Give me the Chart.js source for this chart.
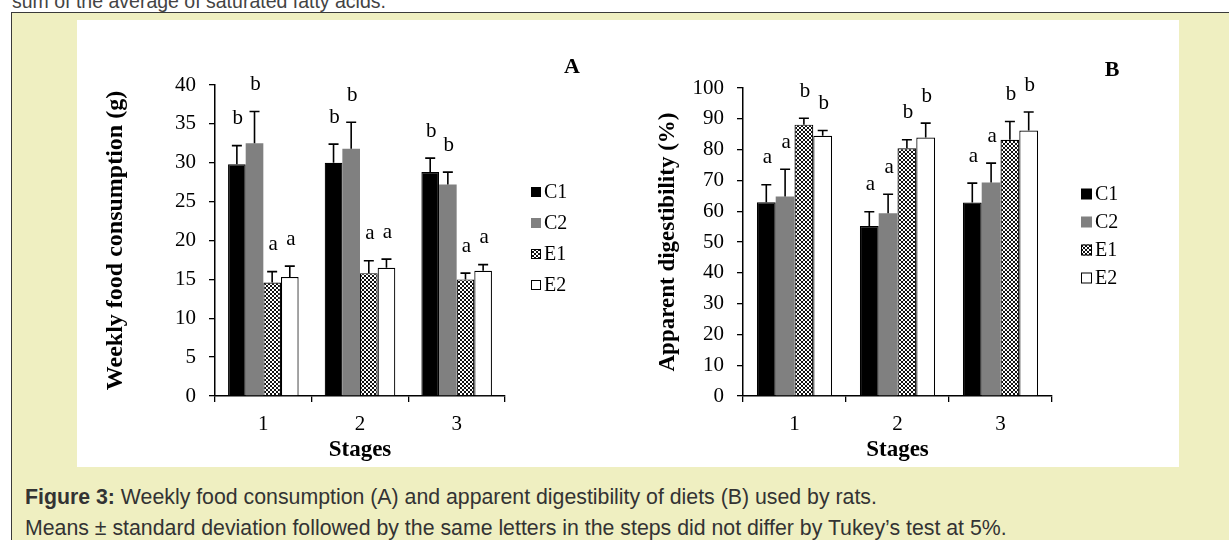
<!DOCTYPE html>
<html>
<head>
<meta charset="utf-8">
<script src="https://cdn.jsdelivr.net/npm/chart.js@4.4.1/dist/chart.umd.min.js"></script>
<style>
  html, body { margin: 0; padding: 0; background: #fff; width: 1229px; height: 540px; overflow: hidden; position: relative; }
  #lead { position: absolute; left: 12px; top: -9px; font: 19.5px "Liberation Sans", Arial, sans-serif; color: #444; white-space: nowrap; line-height: 20px; }
  #frame { position: absolute; left: 11px; top: 12px; width: 1240px; height: 560px; background: #efefc1; border: 1px solid #3a3a3a; box-sizing: border-box; }
  #panel { position: absolute; left: 77px; top: 20px; width: 1102px; height: 447px; background: #fff; }
  #cA { position: absolute; left: 77px; top: 20px; }
  #cB { position: absolute; left: 620px; top: 20px; }
  #cap { position: absolute; left: 25px; top: 482px; font: 21.3px "Liberation Sans", Arial, sans-serif; color: #333; line-height: 31px; white-space: nowrap; }
</style>
</head>
<body>
<div id="lead">sum of the average of saturated fatty acids.</div>
<div id="frame"></div>
<div id="panel"></div>
<canvas id="cA" width="543" height="447"></canvas>
<canvas id="cB" width="559" height="447"></canvas>
<div id="cap"><b>Figure 3:</b> Weekly food consumption (A) and apparent digestibility of diets (B) used by rats.<br>Means ± standard deviation followed by the same letters in the steps did not differ by Tukey’s test at 5%.</div>
<script>
// Stages (categories) and diet groups
const stages = ['1', '2', '3'];
const groups = ['C1', 'C2', 'E1', 'E2'];

// A: weekly food consumption (g), means and standard deviations
const foodC1 = [29.8, 30.0, 28.8];
const foodC2 = [32.5, 31.8, 27.2];
const foodE1 = [14.6, 15.8, 15.0];
const foodE2 = [15.3, 16.5, 16.1];
const foodSdC1 = [2.4, 2.4, 1.8];
const foodSdC2 = [4.1, 3.4, 1.6];
const foodSdE1 = [1.4, 1.6, 0.8];
const foodSdE2 = [1.4, 1.1, 0.8];
const foodLetters = [['b', 'b', 'b'], ['b', 'b', 'b'], ['a', 'a', 'a'], ['a', 'a', 'a']];

// B: apparent digestibility (%), means and standard deviations
const digC1 = [62.9, 55.2, 62.8];
const digC2 = [64.8, 59.3, 69.3];
const digE1 = [88.1, 80.4, 83.2];
const digE2 = [84.5, 83.9, 86.2];
const digSdC1 = [5.7, 4.6, 6.3];
const digSdC2 = [8.8, 6.2, 6.3];
const digSdE1 = [2.1, 2.8, 5.9];
const digSdE2 = [1.7, 4.7, 6.0];
const digLetters = [['a', 'a', 'a'], ['a', 'a', 'a'], ['b', 'b', 'b'], ['b', 'b', 'b']];

// Y axis tick values
const foodTicks = [0, 5, 10, 15, 20, 25, 30, 35, 40];
const digTicks = [0, 10, 20, 30, 40, 50, 60, 70, 80, 90, 100];

const SERIF = '"Liberation Serif", "Times New Roman", serif';
Chart.defaults.font.family = SERIF;
Chart.defaults.color = '#000';

// diagonal cross-hatch for the E1 fill
function crossPattern() {
  const t = document.createElement('canvas');
  t.width = 4; t.height = 4;
  const c = t.getContext('2d');
  c.fillStyle = '#fff'; c.fillRect(0, 0, 4, 4);
  c.fillStyle = '#111';
  for (let i = 0; i < 4; i++) {
    c.fillRect(i, i, 1, 1);
    c.fillRect(3 - i, i, 1, 1);
  }
  return c.createPattern(t, 'repeat');
}
const e1Fill = crossPattern();

const fills = ['#000', '#808080', e1Fill, '#fff'];
const borders = ['#000', '#808080', '#000', '#000'];

function makeDatasets(values, sds, letters) {
  return groups.map((g, i) => ({
    label: g,
    data: values[i],
    sd: sds[i],
    letters: letters[i],
    backgroundColor: fills[i],
    borderColor: borders[i],
    borderWidth: i === 1 ? 0 : 1.2,
    categoryPercentage: 0.73,
    barPercentage: 1.0
  }));
}

// upward error bars with significance letters
const errorBars = {
  id: 'errorBars',
  afterDatasetsDraw(chart) {
    const ctx = chart.ctx, y = chart.scales.y;
    chart.data.datasets.forEach((ds, i) => {
      chart.getDatasetMeta(i).data.forEach((bar, j) => {
        const top = y.getPixelForValue(ds.data[j] + ds.sd[j]);
        ctx.save();
        ctx.strokeStyle = '#000';
        ctx.lineWidth = 1.6;
        ctx.beginPath();
        ctx.moveTo(bar.x, bar.y);
        ctx.lineTo(bar.x, top);
        ctx.moveTo(bar.x - 5, top);
        ctx.lineTo(bar.x + 5, top);
        ctx.stroke();
        ctx.fillStyle = '#000';
        ctx.font = '21px ' + SERIF;
        ctx.textAlign = 'center';
        ctx.textBaseline = 'middle';
        ctx.fillText(ds.letters[j], bar.x + 1, top - 27);
        ctx.restore();
      });
    });
  }
};

// boxed legend and panel letter
const sideLegend = {
  id: 'sideLegend',
  afterDraw(chart, args, o) {
    const ctx = chart.ctx;
    ctx.save();
    chart.data.datasets.forEach((ds, i) => {
      const cy = o.y0 + i * o.dy;
      ctx.fillStyle = ds.backgroundColor;
      ctx.fillRect(o.x, cy - o.box / 2, o.box, o.box);
      if (i >= 2) {
        ctx.strokeStyle = '#000';
        ctx.lineWidth = 1;
        ctx.strokeRect(o.x + 0.5, cy - o.box / 2 + 0.5, o.box - 1, o.box - 1);
      }
      ctx.fillStyle = '#000';
      ctx.font = '20px ' + SERIF;
      ctx.textAlign = 'left';
      ctx.textBaseline = 'middle';
      ctx.fillText(ds.label, o.x + o.box + 3, cy + 1);
    });
    ctx.font = 'bold 22px ' + SERIF;
    ctx.textAlign = 'center';
    ctx.textBaseline = 'middle';
    ctx.fillText(o.tag, o.tagX, o.tagY);
    ctx.restore();
  }
};

function makeChart(id, datasets, ticks, yTitle, geo) {
  return new Chart(document.getElementById(id), {
    type: 'bar',
    data: { labels: stages, datasets },
    options: {
      responsive: false,
      animation: false,
      events: [],
      layout: { padding: { left: 0, top: geo.top, right: geo.right, bottom: 0 } },
      plugins: {
        legend: { display: false },
        tooltip: { enabled: false },
        sideLegend: geo.legend
      },
      scales: {
        x: {
          grid: { display: true, drawOnChartArea: false, drawTicks: true, tickLength: 6, color: '#000', lineWidth: 1.3, offset: true },
          border: { display: true, color: '#000', width: 1.5 },
          ticks: { font: { size: 21 }, padding: 10, color: '#000' },
          title: { display: true, text: 'Stages', font: { size: 23, weight: 'bold' }, padding: { top: 0, bottom: 3 }, color: '#000' },
          afterFit: s => { s.height = 71; }
        },
        y: {
          min: ticks[0],
          max: ticks[ticks.length - 1],
          afterBuildTicks: s => { s.ticks = ticks.map(v => ({ value: v })); },
          grid: { display: true, drawOnChartArea: false, drawTicks: true, tickLength: 6, color: '#000', lineWidth: 1.3 },
          border: { display: true, color: '#000', width: 1.5 },
          ticks: { font: { size: 21 }, padding: 13, color: '#000' },
          title: { display: true, text: yTitle, font: { size: geo.titleSize, weight: 'bold' }, padding: { top: geo.titlePad, bottom: 0 }, color: '#000' },
          afterFit: s => { s.width = geo.yWidth; }
        }
      }
    },
    plugins: [errorBars, sideLegend]
  });
}

makeChart('cA',
  makeDatasets([foodC1, foodC2, foodE1, foodE2], [foodSdC1, foodSdC2, foodSdE1, foodSdE2], foodLetters),
  foodTicks, 'Weekly food consumption (g)',
  { top: 65, right: 115, yWidth: 138, titlePad: 24, titleSize: 24,
    legend: { x: 454, y0: 172, dy: 31, box: 10, tag: 'A', tagX: 495, tagY: 47 } });

makeChart('cB',
  makeDatasets([digC1, digC2, digE1, digE2], [digSdC1, digSdC2, digSdE1, digSdE2], digLetters),
  digTicks, 'Apparent digestibility (%)',
  { top: 68, right: 127, yWidth: 123, titlePad: 34, titleSize: 23,
    legend: { x: 461, y0: 174, dy: 28, box: 11, tag: 'B', tagX: 492, tagY: 50 } });
</script>
</body>
</html>
